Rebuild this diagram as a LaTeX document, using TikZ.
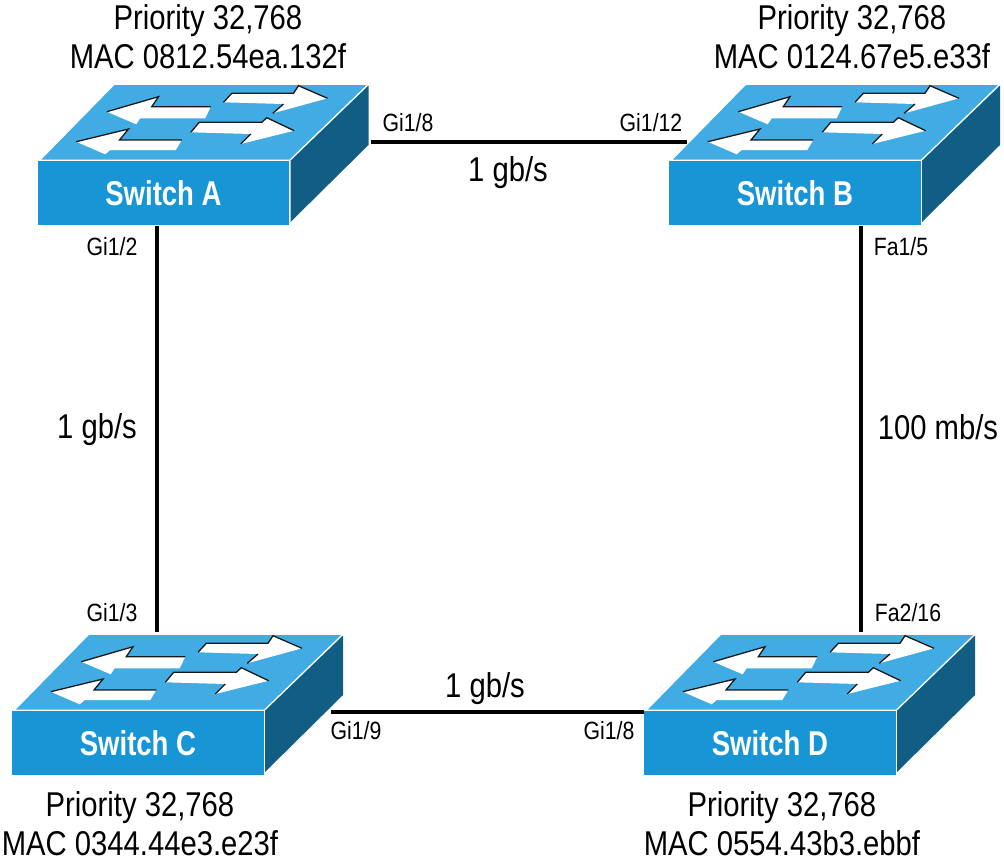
\documentclass[tikz,border=0pt]{standalone}
\usepackage{fontspec}
\setmainfont{Liberation Sans}[FakeStretch=0.85]
\newfontfamily\switchfont{Liberation Sans}[FakeStretch=0.8]
\usepackage{tikz}
\usetikzlibrary{positioning}

\definecolor{frontblue}{HTML}{1795D4}
\definecolor{topblue}{HTML}{41ACE3}
\definecolor{sideblue}{HTML}{115D84}

\tikzset{
  link/.style={line width=4pt,black},
  macinfo/.style={align=center,font=\fontsize{34.4}{39}\selectfont,inner sep=0pt},
  portlabel/.style={font=\fontsize{25}{25}\selectfont,inner sep=0pt},
  speedlabel/.style={font=\fontsize{34.4}{34}\selectfont,inner sep=0pt},
  arrowfill/.style={fill=white},
  arrowedge/.style={line width=1.3pt,black!90,line join=miter},
  switchbox/.pic={
    \fill[sideblue] (253,0.7) -- (331,-74.5) -- (331,-15) -- (253,62) -- cycle;
    \fill[topblue] (4,-0.5) -- (77,-75) -- (329,-75) -- (252,-0.5) -- cycle;
    \fill[arrowfill] (69.3,-48.3) -- (121,-63.3) -- (114.3,-53.3) -- (173.3,-53.3) -- (167.7,-41.7) -- (102.7,-41.7) -- (98.7,-35.7) -- cycle;
    \draw[arrowedge] (69.3,-48.3) -- (121,-63.3) -- (114.3,-53.3) -- (173.3,-53.3);
    \fill[arrowfill] (38.7,-18.3) -- (91,-31) -- (82,-20) -- (144.3,-20) -- (138.3,-10) -- (72.7,-10) -- (67.7,-5.7) -- cycle;
    \draw[arrowedge] (38.7,-18.3) -- (91,-31) -- (82,-20) -- (144.3,-20);
    \fill[arrowfill] (186,-57.7) -- (194.3,-66.7) -- (256,-66.7) -- (261,-74.3) -- (290,-61.7) -- (235.3,-46.7) -- (246,-56) -- cycle;
    \draw[arrowedge] (186,-57.7) -- (194.3,-66.7) -- (256,-66.7) -- (261,-74.3) -- (290,-61.7);
    \draw[arrowedge] (235.3,-46.7) -- (246,-56);
    \fill[arrowfill] (153.3,-27.7) -- (161.7,-37.7) -- (224.3,-37.7) -- (229.3,-42.3) -- (256.7,-29.3) -- (203.3,-16) -- (213.3,-26) -- cycle;
    \draw[arrowedge] (153.3,-27.7) -- (161.7,-37.7) -- (224.3,-37.7) -- (229.3,-42.3) -- (256.7,-29.3);
    \draw[arrowedge] (203.3,-16) -- (213.3,-26);
    \node[anchor=north west,fill=frontblue,minimum width=251.5pt,minimum height=64.5pt,inner sep=0pt,
      text=white,font=\switchfont\bfseries\fontsize{34.4}{34}\selectfont] (-front) at (0,0.7) {#1};
  }
}

\begin{document}
\begin{tikzpicture}[x=1pt,y=-1pt]
\useasboundingbox (0,0) rectangle (1004,865);

% free ends of the links
\coordinate (abstart) at (371,142);
\coordinate (abend) at (687,142);
\coordinate (cdstart) at (331,712);
\coordinate (acend) at (157,632);
\coordinate (bdend) at (861,632);

% links go first, the switches cover their ends
\pic (swa) at (37.5,160) {switchbox=Switch A};
\pic (swb) at (669,160) {switchbox=Switch B};
\draw[link] (abstart) -- (abend);
\draw[link] (swa-front.south -| acend) -- (acend);
\draw[link] (swb-front.south -| bdend) -- (bdend);
\draw[link] (cdstart) -- (644,712) coordinate (cdend);
\pic (swc) at (12,710) {switchbox=Switch C};
\pic (swd) at (644,710) {switchbox=Switch D};

\node[macinfo] (infoa) at (208,37) {Priority 32,768\\MAC 0812.54ea.132f};
\node[macinfo] (infob) at (852,37) {Priority 32,768\\MAC 0124.67e5.e33f};
\node[macinfo] (infoc) at (140,824) {Priority 32,768\\MAC 0344.44e3.e23f};
\node[macinfo] (infod) at (782,824) {Priority 32,768\\MAC 0554.43b3.ebbf};

\node[portlabel] (ga8) at (408,123) {Gi1/8};
\node[portlabel] (gb12) at (651,123) {Gi1/12};
\node[portlabel] (ga2) at (112,247) {Gi1/2};
\node[portlabel] (fb5) at (901,247) {Fa1/5};
\node[portlabel] (gc3) at (112,613) {Gi1/3};
\node[portlabel] (fd16) at (908,613) {Fa2/16};
\node[portlabel] (gc9) at (356,731) {Gi1/9};
\node[portlabel] (gd8) at (609,731) {Gi1/8};

\node[speedlabel] (speedab) at (508,173) {1 gb/s};
\node[speedlabel] (speedac) at (97,430) {1 gb/s};
\node[speedlabel] (speedbd) at (938,427) {100 mb/s};
\node[speedlabel] (speedcd) at (485,689) {1 gb/s};
\end{tikzpicture}
\end{document}
